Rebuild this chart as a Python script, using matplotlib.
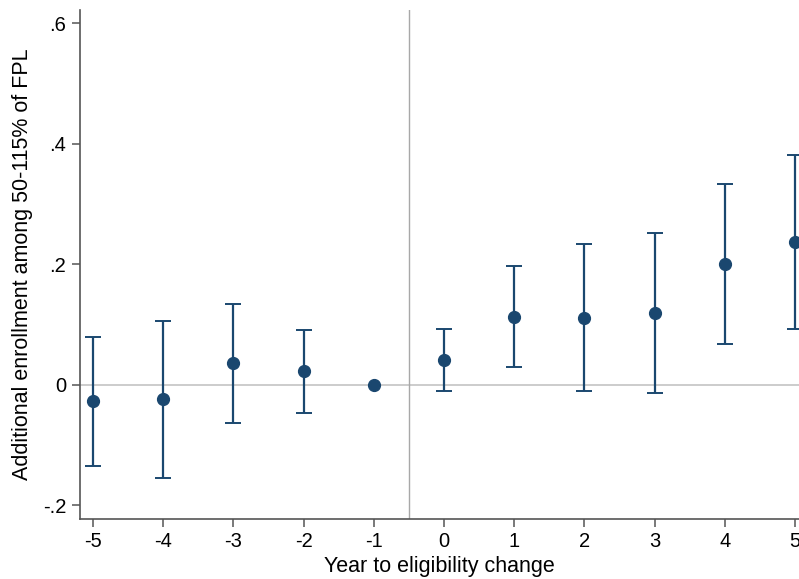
import numpy as np
import matplotlib
matplotlib.use('Agg')
import matplotlib.pyplot as plt

plt.rcParams['font.family'] = ['Liberation Sans', 'DejaVu Sans']

# event-time estimates and 95% CIs
years  = [-5, -4, -3, -2, -1, 0, 1, 2, 3, 4, 5]
coef   = [-0.027, -0.024, 0.036, 0.022, 0.0, 0.041, 0.113, 0.111, 0.119, 0.200, 0.236]
ci_lo  = [-0.135, -0.154, -0.064, -0.047, 0.0, -0.010, 0.029, -0.010, -0.014, 0.067, 0.092]
ci_hi  = [0.079, 0.106, 0.134, 0.090, 0.0, 0.092, 0.197, 0.233, 0.252, 0.333, 0.381]
yticks = [-0.2, 0, 0.2, 0.4, 0.6]
ylabs  = ['-.2', '0', '.2', '.4', '.6']

navy = '#1a476f'
fig = plt.figure(figsize=(7.99, 5.79), dpi=100)
ax = fig.add_axes([80/799, (579-518.5)/579, 1 - 80/799, (518.5-10)/579])

ax.axhline(0, color='#c4c4c4', lw=1.2, zorder=1)
ax.axvline(-0.5, color='#a8a8a8', lw=1.0, zorder=1)

c = np.array(coef)
yerr = [c - np.array(ci_lo), np.array(ci_hi) - c]
mask = np.array(years) != -1
ax.errorbar(np.array(years)[mask], c[mask], yerr=[yerr[0][mask], yerr[1][mask]],
            fmt='none', ecolor=navy, elinewidth=1.6, capsize=5.5, capthick=1.4, zorder=2)
ax.plot(years, coef, 'o', color=navy, ms=8.5, zorder=3)

ax.set_xlim(-5.185, 5.057)
ax.set_ylim(-0.222, 0.6216)
ax.set_xticks(years)
ax.set_xticklabels([str(y) for y in years])
ax.set_yticks(yticks)
ax.set_yticklabels(ylabs)

for s in ['top', 'right']:
    ax.spines[s].set_visible(False)
for s in ['left', 'bottom']:
    ax.spines[s].set_color('#555555')
    ax.spines[s].set_linewidth(1.2)
ax.tick_params(axis='both', colors='#555555', length=6, width=1.1, labelsize=14.5,
               labelcolor='black', pad=4)

ax.set_xlabel('Year to eligibility change', fontsize=15.5, labelpad=3)
ax.set_ylabel('Additional enrollment among 50-115% of FPL', fontsize=15.5, labelpad=7)

fig.savefig('out.png', dpi=100)
